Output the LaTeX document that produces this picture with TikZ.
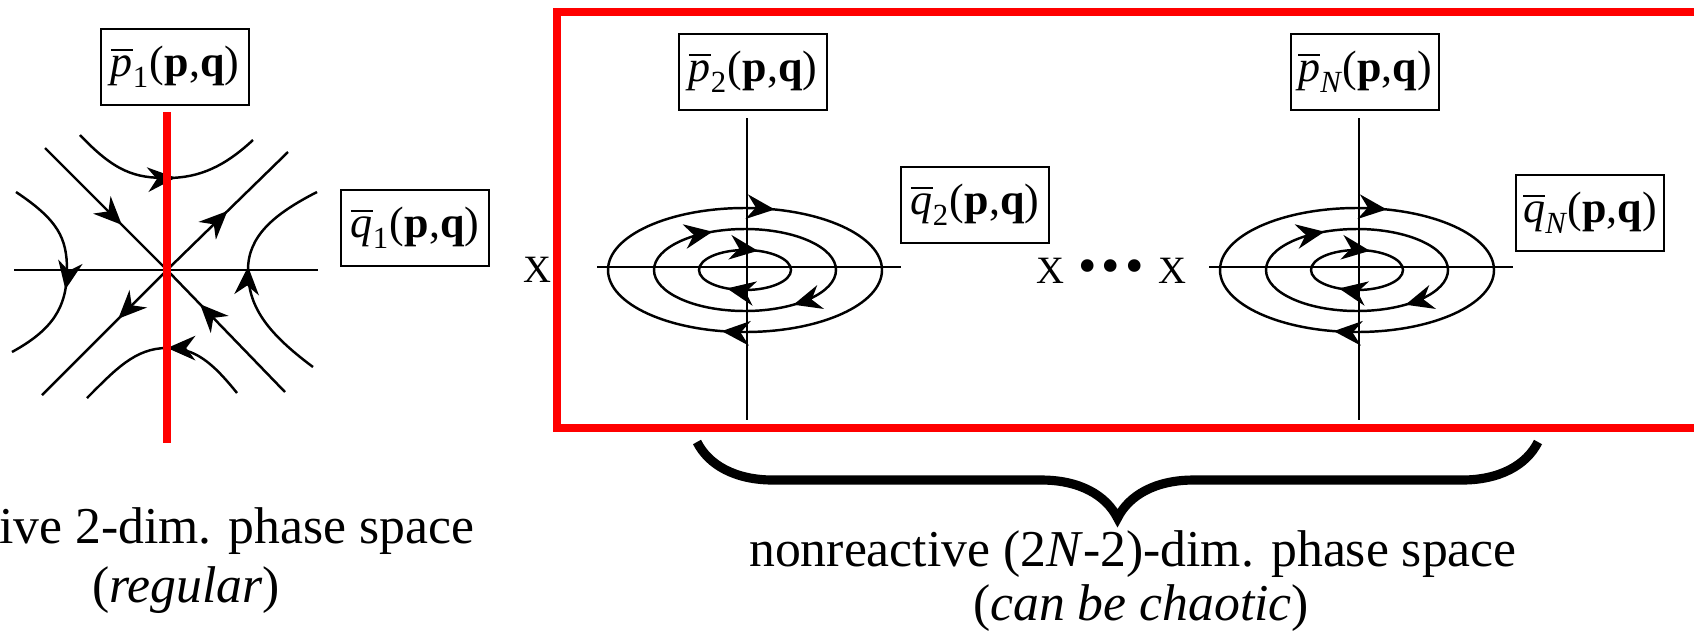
\documentclass[tikz,border=0pt]{standalone}
\usepackage{amsmath}
\usepackage{fontspec}
\setmainfont{Liberation Serif}
\usetikzlibrary{arrows.meta, decorations.markings, decorations.pathreplacing}

\tikzset{
  lbl/.style={draw, line width=0.8pt, minimum width=1.48cm, minimum height=0.76cm,
    inner sep=1pt, font=\fontsize{12.5}{14}\selectfont},
  axline/.style={line width=0.45pt},
  orbit/.style={line width=0.7pt},
  flowtip/.style={postaction={decorate, decoration={markings,
      mark=at position #1 with {\arrow{Stealth[length=8pt,width=7pt]}}}}},
  flowtips/.style 2 args={postaction={decorate, decoration={markings,
      mark=at position #1 with {\arrow{Stealth[length=8pt,width=7pt]}},
      mark=at position #2 with {\arrow{Stealth[length=8pt,width=7pt]}}}}},
  captxt/.style={anchor=base, inner sep=0pt, font=\fontsize{14.7}{16}\selectfont},
  cross/.style={font=\fontsize{11}{12}\selectfont},
  redline/.style={draw=red, line width=2.3pt},
}

\begin{document}
\begin{tikzpicture}[x=0.01cm, y=-0.01cm]
\useasboundingbox (0,0) rectangle (1694,636);

% reactive saddle
\coordinate (s) at (167,270);
\node[lbl] (p1) at (175,67) {$\overline{\textit{p}}_{\text{1}}$(\textbf{p},\textbf{q})};
\node[lbl] (q1) at (415,228) {$\overline{\textit{q}}_{\text{1}}$(\textbf{p},\textbf{q})};
\draw[orbit] (14,270) -- (318,270);
\draw[orbit, flowtip=0.63] (45,148) -- (s);
\draw[orbit, flowtip=0.72] (285,392) -- (s);
\draw[orbit, flowtip=0.50] (s) -- (288,152);
\draw[orbit, flowtip=0.39] (s) -- (42,395);
% hyperbolas around the saddle
\draw[orbit, flowtip=0.555] (80,135) .. controls (115,172) and (135,178) .. (167,178)
  .. controls (200,178) and (225,166) .. (253,140);
\draw[orbit, flowtip=0.47] (237,393) .. controls (212,362) and (195,348) .. (167,348)
  .. controls (135,348) and (115,370) .. (87,398);
\draw[orbit, flowtip=0.58] (16,192) .. controls (58,220) and (67,238) .. (67,270)
  .. controls (67,308) and (52,330) .. (12,352);
\draw[orbit, flowtip=0.54] (313,367) .. controls (266,332) and (248,306) .. (248,270)
  .. controls (248,236) and (274,214) .. (317,192);
\draw[redline] (167,112) -- (167,443);

\node[cross] (x1) at (537,270) {X};

% nonreactive modes
\draw[redline] (1700,12) -- (557,12) -- (557,428) -- (1700,428);
\foreach \cx/\n/\ix/\qx/\qy in {745/2/\text{2}/975/205, 1357/N/\textit{N}/1590/213} {
  \node[lbl] (p\n) at (\cx+8,72) {$\overline{\textit{p}}_{\ix}$(\textbf{p},\textbf{q})};
  \node[lbl] (q\n) at (\qx,\qy) {$\overline{\textit{q}}_{\ix}$(\textbf{p},\textbf{q})};
  \draw[axline] (\cx+2,118) -- (\cx+2,420);
  \draw[axline] (\cx-148,267) -- (\cx+156,267);
  \draw[orbit, flowtips={0.286}{0.796}] (\cx,270) ellipse [x radius=137, y radius=62];
  \draw[orbit, flowtips={0.136}{0.674}] (\cx,270) ellipse [x radius=91, y radius=41];
  \draw[orbit, flowtips={0.334}{0.81}] (\cx,270) ellipse [x radius=46, y radius=20];
}

\node[cross] (dots) at (1111,271)
  {X\hspace{4pt}{\fontsize{15}{15}\selectfont •\hspace{1.5pt}•\hspace{1.5pt}•}\hspace{4pt}X};

% brace and captions
\coordinate (bl) at (697,442);
\coordinate (br) at (1538,442);
\draw[line width=2.6pt, decorate, decoration={brace, amplitude=0.76cm, mirror}] (bl) -- (br);

\node[captxt, anchor=base east] (lt1) at (475,543) {ive 2-dim. phase space};
\node[captxt] (lt2) at (186,602) {(\textit{regular})};
\node[captxt] (rt1) at (1133,566) {nonreactive (2\textit{N}-2)-dim. phase space};
\node[captxt] (rt2) at (1141,620) {(\textit{can be chaotic})};
\end{tikzpicture}
\end{document}
